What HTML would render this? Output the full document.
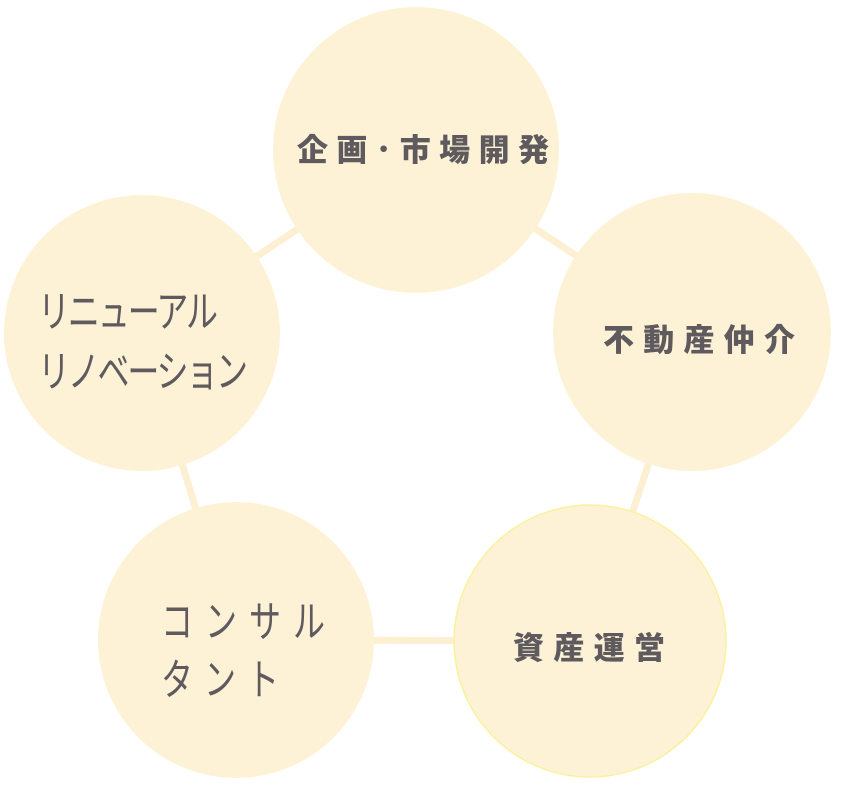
<!DOCTYPE html>
<html><head><meta charset="utf-8"><style>
html,body{margin:0;padding:0;background:#fff}
svg{display:block}
</style></head><body>
<svg width="850" height="790" viewBox="0 0 850 790" xmlns="http://www.w3.org/2000/svg">
<g stroke="#fdf0d2" stroke-width="7">
<line x1="416" y1="150" x2="692" y2="332"/>
<line x1="692" y1="332" x2="590" y2="641"/>
<line x1="590" y1="641" x2="236" y2="640"/>
<line x1="236" y1="640" x2="142" y2="333"/>
<line x1="142" y1="333" x2="416" y2="150"/>
</g>
<g fill="#fdf2d6">
<circle cx="416" cy="150" r="143"/>
<circle cx="692" cy="332" r="139"/>
<circle cx="590" cy="641" r="136" stroke="#f8f2a0" stroke-width="1.5"/>
<circle cx="236" cy="640" r="138"/>
<circle cx="142" cy="333" r="138"/>
</g>
<g fill="#5e5a5e" font-family="'Liberation Sans','Noto Sans CJK JP',sans-serif" font-weight="900" font-size="31">
<text x="297" y="161" textLength="252" lengthAdjust="spacing">企画･市場開発</text>
<text x="603" y="351" textLength="192" lengthAdjust="spacing">不動産仲介</text>
<text x="513" y="659" textLength="152" lengthAdjust="spacing">資産運営</text>
</g>
<g fill="#5e5a5e" font-family="'Liberation Sans','Noto Sans CJK JP',sans-serif" font-weight="normal" font-size="32">
<text transform="translate(0,327) scale(1,1.35)" x="38" y="0" textLength="180" lengthAdjust="spacing">リニューアル</text>
<text transform="translate(0,387) scale(1,1.35)" x="38" y="0" textLength="210" lengthAdjust="spacing">リノベーション</text>
<text transform="translate(0,637) scale(1,1.35)" x="161" y="0" textLength="164" lengthAdjust="spacing">コンサル</text>
<text transform="translate(0,695) scale(1,1.35)" x="161" y="0" textLength="118" lengthAdjust="spacing">タント</text>
</g>
</svg>
</body></html>
